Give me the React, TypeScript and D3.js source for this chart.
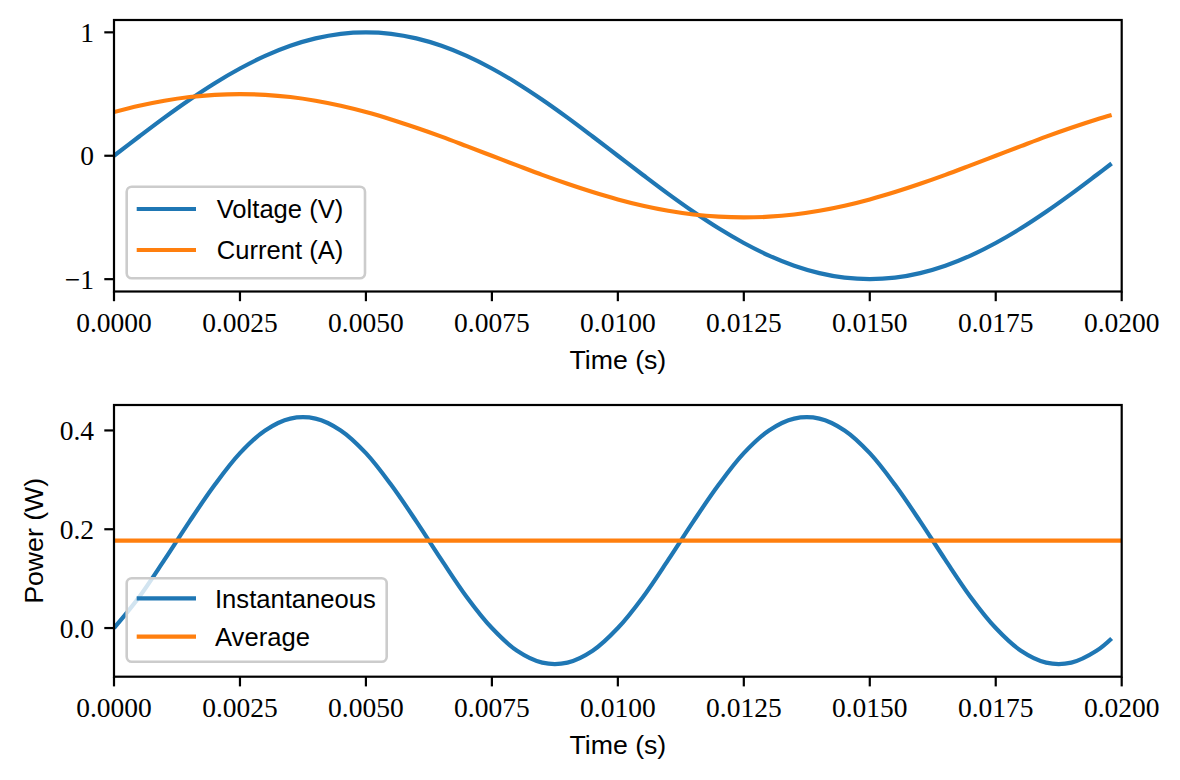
import React from 'react';
import * as d3 from 'd3';

// ---- data ----
const time = [
  0, 0.0005, 0.001, 0.0015, 0.002, 0.0025, 0.003, 0.0035, 0.004, 0.0045,
  0.005, 0.0055, 0.006, 0.0065, 0.007, 0.0075, 0.008, 0.0085, 0.009, 0.0095,
  0.01, 0.0105, 0.011, 0.0115, 0.012, 0.0125, 0.013, 0.0135, 0.014, 0.0145,
  0.015, 0.0155, 0.016, 0.0165, 0.017, 0.0175, 0.018, 0.0185, 0.019, 0.0195,
  0.0198,
];
const voltage = [
  0, 0.156, 0.309, 0.454, 0.588, 0.707, 0.809, 0.891, 0.951, 0.988,
  1.0, 0.988, 0.951, 0.891, 0.809, 0.707, 0.588, 0.454, 0.309, 0.156,
  0, -0.156, -0.309, -0.454, -0.588, -0.707, -0.809, -0.891, -0.951, -0.988,
  -1.0, -0.988, -0.951, -0.891, -0.809, -0.707, -0.588, -0.454, -0.309, -0.156,
  -0.063,
];
const current = [
  0.354, 0.405, 0.446, 0.476, 0.494, 0.5, 0.494, 0.476, 0.446, 0.405,
  0.354, 0.294, 0.227, 0.155, 0.078, 0, -0.078, -0.155, -0.227, -0.294,
  -0.354, -0.405, -0.446, -0.476, -0.494, -0.5, -0.494, -0.476, -0.446, -0.405,
  -0.354, -0.294, -0.227, -0.155, -0.078, 0, 0.078, 0.155, 0.227, 0.294,
  0.331,
];
const power = [
  0, 0.063, 0.138, 0.216, 0.29, 0.354, 0.4, 0.424, 0.424, 0.4,
  0.354, 0.29, 0.216, 0.138, 0.063, 0, -0.046, -0.07, -0.07, -0.046,
  0, 0.063, 0.138, 0.216, 0.29, 0.354, 0.4, 0.424, 0.424, 0.4,
  0.354, 0.29, 0.216, 0.138, 0.063, 0, -0.046, -0.07, -0.07, -0.046,
  -0.021,
];
const averagePower = [0.177, 0.177];
const averageTime = [0, 0.02];

const xTicks = [0, 0.0025, 0.005, 0.0075, 0.01, 0.0125, 0.015, 0.0175, 0.02];
const topYTicks = [-1, 0, 1];
const bottomYTicks = [0, 0.2, 0.4];
const topLegend = ['Voltage (V)', 'Current (A)'];
const bottomLegend = ['Instantaneous', 'Average'];
const seriesColors = ['#1f77b4', '#ff7f0e'];

// ---- layout ----
const W = 1180;
const H = 780;
const X0 = 114;
const X1 = 1121.7;
const SERIF = "'Liberation Serif', 'Times New Roman', serif";
const SANS = "'Liberation Sans', Arial, sans-serif";
const TICK_FS = 27.5;
const LABEL_FS = 26.7;
const LEGEND_FS = 25.6;
const LW = 4.2;
const SPINE = 2.2;

type Series = { x: number[]; y: number[]; color: string };

interface PanelProps {
  id: string;
  top: number;
  bottom: number;
  yDomain: [number, number];
  yTicks: number[];
  yFormat: (v: number) => string;
  series: Series[];
  legend: string[];
  legendBox: { x: number; y: number; w: number; h: number; rows: number[]; textX: number };
  yLabel?: string;
}

const Panel: React.FC<PanelProps> = ({ id, top, bottom, yDomain, yTicks, yFormat, series, legend, legendBox, yLabel }) => {
  const x = d3.scaleLinear().domain([0, 0.02]).range([X0, X1]);
  const y = d3.scaleLinear().domain(yDomain).range([bottom, top]);
  const xf = d3.format('.4f');
  const line = d3
    .line<[number, number]>()
    .x((d) => x(d[0]))
    .y((d) => y(d[1]))
    .curve(d3.curveCatmullRom);
  const tickLen = 9.7;
  return (
    <g>
      <defs>
        <clipPath id={`clip-${id}`}>
          <rect x={X0} y={top} width={X1 - X0} height={bottom - top} />
        </clipPath>
      </defs>
      <g clipPath={`url(#clip-${id})`}>
        {series.map((s, i) => (
          <path
            key={i}
            d={line(s.x.map((t, k) => [t, s.y[k]] as [number, number])) || ''}
            fill="none"
            stroke={s.color}
            strokeWidth={LW}
            strokeLinejoin="round"
            strokeLinecap="butt"
          />
        ))}
      </g>
      <rect x={X0} y={top} width={X1 - X0} height={bottom - top} fill="none" stroke="#000" strokeWidth={SPINE} strokeLinecap="square" />
      {xTicks.map((t) => (
        <g key={`x${t}`}>
          <line x1={x(t)} x2={x(t)} y1={bottom} y2={bottom + tickLen} stroke="#000" strokeWidth={SPINE} />
          <text x={x(t)} y={bottom + 40} textAnchor="middle" fontFamily={SERIF} fontSize={TICK_FS} fill="#000">
            {xf(t)}
          </text>
        </g>
      ))}
      {yTicks.map((t) => (
        <g key={`y${t}`}>
          <line x1={X0 - tickLen} x2={X0} y1={y(t)} y2={y(t)} stroke="#000" strokeWidth={SPINE} />
          <text x={94} y={y(t) + 9.5} textAnchor="end" fontFamily={SERIF} fontSize={TICK_FS} fill="#000">
            {yFormat(t)}
          </text>
        </g>
      ))}
      <text x={(X0 + X1) / 2} y={bottom + 77} textAnchor="middle" fontFamily={SANS} fontSize={LABEL_FS} fill="#000">
        Time (s)
      </text>
      {yLabel && (
        <text
          transform={`translate(43, ${(top + bottom) / 2}) rotate(-90)`}
          textAnchor="middle"
          fontFamily={SANS}
          fontSize={LABEL_FS}
          fill="#000"
        >
          {yLabel}
        </text>
      )}
      <rect
        x={legendBox.x}
        y={legendBox.y}
        width={legendBox.w}
        height={legendBox.h}
        rx={5}
        ry={5}
        fill="#fff"
        fillOpacity={0.8}
        stroke="#cccccc"
        strokeWidth={2.6}
      />
      {legend.map((label, i) => (
        <g key={label}>
          <line
            x1={legendBox.x + 10}
            x2={legendBox.x + 69.3}
            y1={legendBox.rows[i]}
            y2={legendBox.rows[i]}
            stroke={series[i].color}
            strokeWidth={LW}
          />
          <text x={legendBox.textX} y={legendBox.rows[i] + 9.3} fontFamily={SANS} fontSize={LEGEND_FS} fill="#000">
            {label}
          </text>
        </g>
      ))}
    </g>
  );
};

export default function App() {
  const intFmt = d3.format('d');
  const oneFmt = d3.format('.1f');
  return (
    <svg
      width={W}
      height={H}
      viewBox={`0 0 ${W} ${H}`}
      style={{ position: 'absolute', left: 0, top: 0, display: 'block', background: '#fff' }}
    >
      <rect x={0} y={0} width={W} height={H} fill="#fff" />
      <Panel
        id="top"
        top={20}
        bottom={291.5}
        yDomain={[-1.1, 1.1]}
        yTicks={topYTicks}
        yFormat={intFmt}
        series={[
          { x: time, y: voltage, color: seriesColors[0] },
          { x: time, y: current, color: seriesColors[1] },
        ]}
        legend={topLegend}
        legendBox={{ x: 126.7, y: 186.7, w: 238.3, h: 91.6, rows: [209, 250], textX: 216.7 }}
      />
      <Panel
        id="bottom"
        top={405}
        bottom={676.7}
        yDomain={[-0.0985, 0.4515]}
        yTicks={bottomYTicks}
        yFormat={oneFmt}
        series={[
          { x: time, y: power, color: seriesColors[0] },
          { x: averageTime, y: averagePower, color: seriesColors[1] },
        ]}
        legend={bottomLegend}
        legendBox={{ x: 126.7, y: 578.3, w: 260, h: 83.4, rows: [598.3, 636.7], textX: 215 }}
        yLabel="Power (W)"
      />
    </svg>
  );
}
